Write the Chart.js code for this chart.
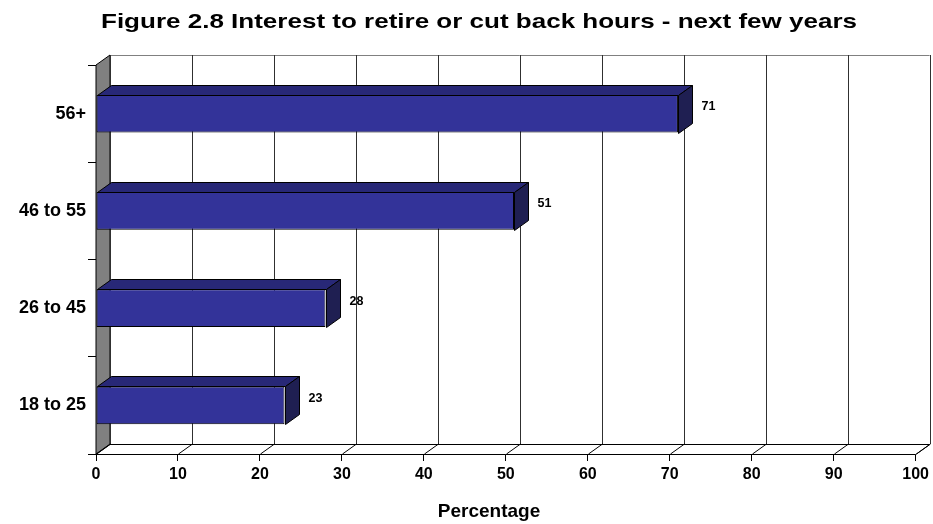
<!DOCTYPE html>
<html>
<head>
<meta charset="utf-8">
<script src="https://cdn.jsdelivr.net/npm/chart.js@4/dist/chart.umd.min.js"></script>
<style>
  html, body { margin: 0; padding: 0; background: #fff; }
  #wrap { width: 933px; height: 524px; }
</style>
</head>
<body>
<div id="wrap"><canvas id="myChart" width="933" height="524"></canvas></div>
<script>
const ageGroups = ['56+', '46 to 55', '26 to 45', '18 to 25'];
const percentages = [71, 51, 28, 23];
const xTicks = [0, 10, 20, 30, 40, 50, 60, 70, 80, 90, 100];
const chartTitle = 'Figure 2.8 Interest to retire or cut back hours - next few years';
const xAxisTitle = 'Percentage';

const FONT = '"Liberation Sans", Arial, Helvetica, sans-serif';
// depth of the pseudo 3D box
const DX = 14, DY = 10;

const box3d = {
  id: 'box3d',
  beforeDatasetsDraw(chart) {
    const { ctx, chartArea: a, scales: { x } } = chart;
    ctx.save();
    // side wall
    ctx.beginPath();
    ctx.moveTo(a.left, a.top);
    ctx.lineTo(a.left + DX, a.top - DY);
    ctx.lineTo(a.left + DX, a.bottom - DY);
    ctx.lineTo(a.left, a.bottom);
    ctx.closePath();
    ctx.fillStyle = '#808080';
    ctx.fill();
    ctx.strokeStyle = '#000';
    ctx.lineWidth = 1;
    ctx.stroke();
    // back top edge
    ctx.beginPath();
    ctx.moveTo(a.left + DX, a.top - DY + 0.5);
    ctx.lineTo(a.right + DX, a.top - DY + 0.5);
    ctx.strokeStyle = '#808080';
    ctx.stroke();
    // back gridlines
    ctx.strokeStyle = '#303030';
    xTicks.forEach(v => {
      const px = Math.round(x.getPixelForValue(v)) + DX + 0.5;
      ctx.beginPath();
      ctx.moveTo(px, a.top - DY);
      ctx.lineTo(px, a.bottom - DY);
      ctx.stroke();
    });
    // floor
    ctx.beginPath();
    ctx.moveTo(a.left, a.bottom + 0.5);
    ctx.lineTo(a.left + DX, a.bottom - DY + 0.5);
    ctx.lineTo(a.right + DX, a.bottom - DY + 0.5);
    ctx.lineTo(a.right, a.bottom + 0.5);
    ctx.closePath();
    ctx.fillStyle = '#fff';
    ctx.fill();
    ctx.strokeStyle = '#000';
    ctx.stroke();
    xTicks.forEach(v => {
      const px = Math.round(x.getPixelForValue(v)) + 0.5;
      ctx.beginPath();
      ctx.moveTo(px, a.bottom);
      ctx.lineTo(px + DX, a.bottom - DY);
      ctx.stroke();
    });
    ctx.restore();
  },
  afterDatasetsDraw(chart) {
    const { ctx } = chart;
    const meta = chart.getDatasetMeta(0);
    ctx.save();
    ctx.strokeStyle = '#000';
    ctx.lineWidth = 1;
    meta.data.forEach((bar, i) => {
      const { x, y, base, height } = bar.getProps(['x', 'y', 'base', 'height'], true);
      const top = Math.round(y - height / 2) + 0.5;
      const bot = Math.round(y + height / 2) + 0.5;
      const l = Math.round(base) + 0.5;
      const r = Math.round(x) + 0.5;
      // top face
      ctx.beginPath();
      ctx.moveTo(l, top);
      ctx.lineTo(l + DX, top - DY);
      ctx.lineTo(r + DX, top - DY);
      ctx.lineTo(r, top);
      ctx.closePath();
      ctx.fillStyle = '#282877';
      ctx.fill();
      ctx.stroke();
      // end face
      ctx.beginPath();
      ctx.moveTo(r, top);
      ctx.lineTo(r + DX, top - DY);
      ctx.lineTo(r + DX, bot - DY);
      ctx.lineTo(r, bot);
      ctx.closePath();
      ctx.fillStyle = '#1f1f52';
      ctx.fill();
      ctx.stroke();
      // value label
      ctx.fillStyle = '#000';
      ctx.font = 'bold 12.5px ' + FONT;
      ctx.textAlign = 'center';
      ctx.textBaseline = 'middle';
      ctx.fillText(String(percentages[i]), r + DX + 16, y - 7);
    });
    ctx.restore();
  },
  afterDraw(chart) {
    const { ctx } = chart;
    ctx.save();
    ctx.fillStyle = '#000';
    ctx.textAlign = 'center';
    ctx.textBaseline = 'middle';
    // title is set wide
    ctx.font = 'bold 21px ' + FONT;
    const w = ctx.measureText(chartTitle).width;
    ctx.translate(479, 22);
    ctx.scale(756 / w, 1);
    ctx.fillText(chartTitle, 0, 0);
    ctx.setTransform(1, 0, 0, 1, 0, 0);
    ctx.font = 'bold 19px ' + FONT;
    ctx.fillText(xAxisTitle, 489, 512);
    ctx.restore();
  }
};

new Chart(document.getElementById('myChart'), {
  type: 'bar',
  data: {
    labels: ageGroups,
    datasets: [{
      data: percentages,
      backgroundColor: '#333399',
      borderColor: '#000',
      borderWidth: 1,
      borderSkipped: false,
      barPercentage: 0.39,
      categoryPercentage: 1
    }]
  },
  options: {
    indexAxis: 'y',
    responsive: false,
    animation: false,
    layout: { padding: { top: 65, right: 17, left: 0, bottom: 0 } },
    plugins: {
      legend: { display: false },
      tooltip: { enabled: false }
    },
    scales: {
      x: {
        min: 0,
        max: 100,
        afterFit(scale) { scale.height = 70; },
        ticks: {
          stepSize: 10,
          padding: 4,
          color: '#000',
          font: { family: FONT, size: 16, weight: 'bold' }
        },
        grid: { drawOnChartArea: false, tickLength: 7, color: '#000' },
        border: { color: '#000' }
      },
      y: {
        afterFit(scale) { scale.width = 96; },
        ticks: {
          padding: 2,
          color: '#000',
          font: { family: FONT, size: 18, weight: 'bold' }
        },
        grid: { drawOnChartArea: false, tickLength: 8, color: '#000', offset: true },
        border: { color: '#000' }
      }
    }
  },
  plugins: [box3d]
});
</script>
</body>
</html>
